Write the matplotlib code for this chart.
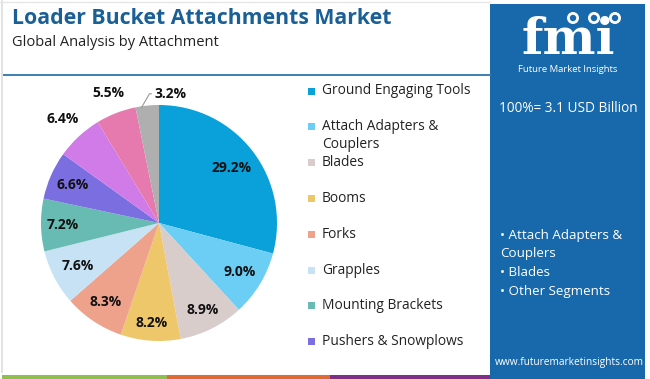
import matplotlib
matplotlib.use("Agg")
import matplotlib.pyplot as plt
import numpy as np
from matplotlib.patches import Rectangle, Circle

categories = ["Ground Engaging Tools", "Attach Adapters &\nCouplers", "Blades", "Booms",
              "Forks", "Grapples", "Mounting Brackets", "Pushers & Snowplows",
              "Others A", "Others B", "Others C"]
values = [29.2, 9.0, 8.9, 8.2, 8.3, 7.6, 7.2, 6.6, 6.4, 5.5, 3.2]
colors = ["#0aa0d9", "#6ccef4", "#d9cdcc", "#eec76b", "#eea18b", "#c6e2f4",
          "#68bbb3", "#7a6ee0", "#d07be8", "#e67aaf", "#b0afb0"]
legend_count = 8
bullets = ["• Attach Adapters &\nCouplers", "• Blades", "• Other Segments"]

W, H = 650, 379
fig = plt.figure(figsize=(6.5, 3.79), dpi=100)
fig.patch.set_facecolor("white")

deco = fig.add_axes([0, 0, 1, 1])
deco.set_xlim(0, W)
deco.set_ylim(H, 0)
deco.axis("off")

FONT = "Open Sans"
# left border
deco.plot([1.5, 1.5], [0, 372], color="#dddddd", lw=1.2)
deco.plot([0, 490], [1.5, 1.5], color="#e6e6e6", lw=1.0)
# header line
deco.plot([4, 490], [75, 75], color="#3b7fae", lw=1.4)
# titles
deco.text(12, 19, "Loader Bucket Attachments Market", fontsize=15.3, fontweight="bold",
          color="#1b5f97", family=FONT, va="center", ha="left")
deco.text(12, 42, "Global Analysis by Attachment", fontsize=10.5, color="#222222",
          family=FONT, va="center", ha="left")

# right panel
panel_c = "#1769ac"
deco.add_patch(Rectangle((490, 4), 155, 375, facecolor=panel_c, edgecolor="none"))
# logo
deco.text(568, 41, "fmi", fontsize=36, fontweight="bold", color="white", family="DejaVu Serif",
          ha="center", va="center")
for yy in np.arange(24, 62, 3.2):
    deco.plot([515, 622], [yy, yy], color=panel_c, lw=0.7)
for cx in [573, 594, 615]:
    deco.add_patch(Circle((cx, 18), 6, facecolor="white", edgecolor="none"))
    deco.add_patch(Circle((cx, 18), 3.2, facecolor=panel_c, edgecolor="none"))
deco.text(568, 69, "Future Market Insights", fontsize=6.8, color="white", family=FONT,
          ha="center", va="center")
deco.text(568, 109, "100%= 3.1 USD Billion", fontsize=9.8, color="white", family=FONT,
          ha="center", va="center")
deco.text(500, 229, "\n".join(bullets), fontsize=9.6, color="white", family=FONT,
          ha="left", va="top", linespacing=1.55)
deco.text(569, 363, "www.futuremarketinsights.com", fontsize=7.3, color="white",
          family=FONT, ha="center", va="center")

# bottom strip
deco.add_patch(Rectangle((2, 375), 165, 4, facecolor="#8fbf4f", edgecolor="none"))
deco.add_patch(Rectangle((167, 375), 163, 4, facecolor="#e06a33", edgecolor="none"))
deco.add_patch(Rectangle((330, 375), 160, 4, facecolor="#7f2f8a", edgecolor="none"))

# pie
cx, cy, R = 159, 223, 118
pie_ax = fig.add_axes([(cx - R) / W, (H - cy - R) / H, 2 * R / W, 2 * R / H])
wedges, _ = pie_ax.pie(values, colors=colors, startangle=90, counterclock=False,
                       radius=1.0, wedgeprops=dict(linewidth=0))
pie_ax.set_xlim(-1, 1)
pie_ax.set_ylim(-1, 1)
pie_ax.set_aspect("equal")
pie_ax.axis("off")

inside_r = [0.77, 0.80, 0.82, 0.85, 0.81, 0.78, 0.82, 0.80]
outside_r = [1.2, 1.18]
for i, (w, v) in enumerate(zip(wedges, values)):
    ang = np.deg2rad((w.theta1 + w.theta2) / 2)
    if i < len(inside_r):
        r = inside_r[i]
    elif i < len(inside_r) + len(outside_r):
        r = outside_r[i - len(inside_r)]
    else:
        r = None
    txt = f"{v:.1f}%"
    if r is not None:
        pie_ax.text(r * np.cos(ang), r * np.sin(ang), txt, ha="center", va="center",
                    fontsize=10, fontweight="bold", color="#111111", family=FONT,
                    clip_on=False)
    else:
        x0, y0 = 1.0 * np.cos(ang), 1.0 * np.sin(ang)
        pie_ax.annotate(txt, xy=(x0 - 0.05, y0 - 0.02), xytext=(x0 + 0.06, y0 + 0.1),
                        ha="left", va="center", fontsize=10, fontweight="bold",
                        color="#111111", family=FONT,
                        arrowprops=dict(arrowstyle="-", color="#999999", lw=0.8,
                                        shrinkA=0, shrinkB=0,
                                        connectionstyle="angle,angleA=0,angleB=60,rad=0"),
                        annotation_clip=False)

# legend
ly0, dy = 91, 35.8
for i in range(legend_count):
    y = ly0 + i * dy
    deco.add_patch(Rectangle((308, y - 3.5), 7, 7, facecolor=colors[i], edgecolor="none"))
    lines = categories[i].split("\n")
    for k, ln in enumerate(lines):
        deco.text(322, y + k * 18, ln, fontsize=9.9, color="#222222", family=FONT,
                  ha="left", va="center")

fig.savefig("out.png", dpi=100, facecolor="white")
